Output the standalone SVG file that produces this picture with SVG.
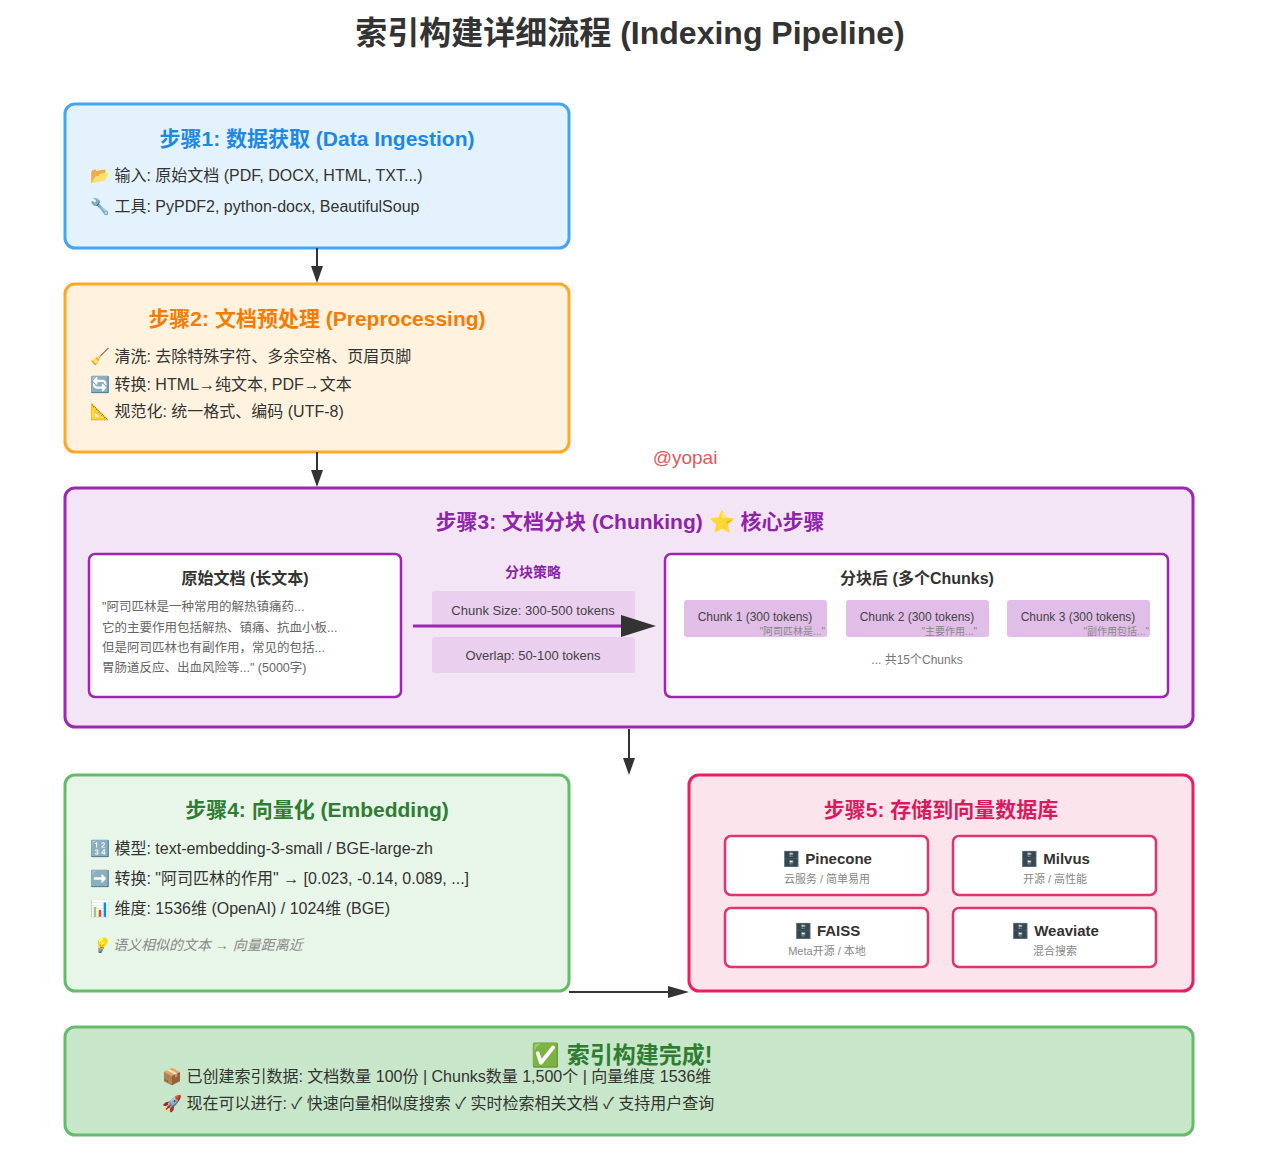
<svg xmlns="http://www.w3.org/2000/svg" width="1280" height="1155" viewBox="0 0 1280 1155">
<style>
text{font-family:"Liberation Sans","Noto Sans CJK SC",sans-serif}
.st{font-size:21px;font-weight:bold;text-anchor:middle}
.ln{font-size:16px;fill:#333}
.h{font-size:16px;font-weight:bold;fill:#333;text-anchor:middle}
.sm{font-size:12.5px;fill:#666}
.ck{fill:#e1bee7}
.ct{font-size:12px;fill:#444;text-anchor:middle}
.cs{font-size:10px;fill:#888;text-anchor:end}
.db{fill:#fff;stroke:#e0336f;stroke-width:2.5}
.dn{font-size:15px;font-weight:bold;fill:#333;text-anchor:middle}
.ds{font-size:11px;fill:#888;text-anchor:middle}
.ar{stroke:#333;stroke-width:2;fill:none}
.hd{fill:#333}
</style>
<rect width="1280" height="1155" fill="#fff"/>
<text x="630" y="44" font-size="32" font-weight="bold" fill="#333" text-anchor="middle">索引构建详细流程 (Indexing Pipeline)</text>
<text x="685" y="464" font-size="19" fill="#e05a5a" text-anchor="middle">@yopai</text>
<g id="step1">
<rect x="65" y="104" width="504" height="144" rx="10" fill="#e3f2fd" stroke="#42a5f5" stroke-width="3"/>
<text x="317" y="146" class="st" fill="#1e88e5">步骤1: 数据获取 (Data Ingestion)</text>
<text x="90" y="181" class="ln">📂 输入: 原始文档 (PDF, DOCX, HTML, TXT...)</text>
<text x="90" y="212" class="ln">🔧 工具: PyPDF2, python-docx, BeautifulSoup</text>
</g>
<g id="step2">
<rect x="65" y="284" width="504" height="168" rx="10" fill="#fff3e0" stroke="#ffa726" stroke-width="3"/>
<text x="317" y="326" class="st" fill="#f57c00">步骤2: 文档预处理 (Preprocessing)</text>
<text x="90" y="362" class="ln" font-size="15">🧹 清洗: 去除特殊字符、多余空格、页眉页脚</text>
<text x="90" y="390" class="ln" font-size="15">🔄 转换: HTML→纯文本, PDF→文本</text>
<text x="90" y="417" class="ln" font-size="15">📐 规范化: 统一格式、编码 (UTF-8)</text>
</g>
<g id="step3">
<rect x="65" y="488" width="1128" height="239" rx="10" fill="#f3e5f5" stroke="#9c27b0" stroke-width="3"/>
<text x="630" y="529" class="st" fill="#8e24aa">步骤3: 文档分块 (Chunking) ⭐ 核心步骤</text>
<rect x="89" y="554" width="312" height="143" rx="6" fill="#fff" stroke="#9c27b0" stroke-width="2.5"/>
<text x="245" y="584" class="h">原始文档 (长文本)</text>
<text x="102" y="611" class="sm">"阿司匹林是一种常用的解热镇痛药...</text>
<text x="102" y="632" class="sm">它的主要作用包括解热、镇痛、抗血小板...</text>
<text x="102" y="652" class="sm">但是阿司匹林也有副作用，常见的包括...</text>
<text x="102" y="672" class="sm">胃肠道反应、出血风险等..." (5000字)</text>
<text x="533" y="577" font-size="14" font-weight="bold" fill="#8e24aa" text-anchor="middle">分块策略</text>
<rect x="432" y="591" width="203" height="37" rx="3" fill="#e1bee7" opacity="0.55"/>
<rect x="432" y="637" width="203" height="36" rx="3" fill="#e1bee7" opacity="0.55"/>
<text x="533" y="615" font-size="13" fill="#444" text-anchor="middle">Chunk Size: 300-500 tokens</text>
<text x="533" y="660" font-size="13" fill="#444" text-anchor="middle">Overlap: 50-100 tokens</text>
<rect x="665" y="554" width="503" height="143" rx="6" fill="#fff" stroke="#9c27b0" stroke-width="2.5"/>
<text x="917" y="584" class="h">分块后 (多个Chunks)</text>
<rect x="684" y="600" width="143" height="37" rx="3" class="ck"/>
<rect x="846" y="600" width="143" height="37" rx="3" class="ck"/>
<rect x="1007" y="600" width="143" height="37" rx="3" class="ck"/>
<text x="755" y="621" class="ct">Chunk 1 (300 tokens)</text>
<text x="917" y="621" class="ct">Chunk 2 (300 tokens)</text>
<text x="1078" y="621" class="ct">Chunk 3 (300 tokens)</text>
<text x="825" y="635" class="cs">"阿司匹林是..."</text>
<text x="977" y="635" class="cs">"主要作用..."</text>
<text x="1149" y="635" class="cs">"副作用包括..."</text>
<text x="917" y="664" font-size="12" fill="#777" text-anchor="middle">... 共15个Chunks</text>
</g>
<g id="step4">
<rect x="65" y="775" width="504" height="216" rx="10" fill="#e8f5e9" stroke="#66bb6a" stroke-width="3"/>
<text x="317" y="817" class="st" fill="#2e7d32">步骤4: 向量化 (Embedding)</text>
<text x="90" y="854" class="ln" font-size="15">🔢 模型: text-embedding-3-small / BGE-large-zh</text>
<text x="90" y="884" class="ln" font-size="15">➡️ 转换: "阿司匹林的作用" → [0.023, -0.14, 0.089, ...]</text>
<text x="90" y="914" class="ln" font-size="15">📊 维度: 1536维 (OpenAI) / 1024维 (BGE)</text>
<text x="92" y="950" font-size="14" font-style="italic" fill="#888">💡 语义相似的文本 → 向量距离近</text>
</g>
<g id="step5">
<rect x="689" y="775" width="504" height="216" rx="10" fill="#fce4ec" stroke="#e91e63" stroke-width="3"/>
<text x="941" y="817" class="st" fill="#d81b60">步骤5: 存储到向量数据库</text>
<rect x="725" y="836" width="203" height="59" rx="6" class="db"/>
<rect x="953" y="836" width="203" height="59" rx="6" class="db"/>
<rect x="725" y="908" width="203" height="59" rx="6" class="db"/>
<rect x="953" y="908" width="203" height="59" rx="6" class="db"/>
<text x="827" y="864" class="dn">🗄️ Pinecone</text><text x="827" y="883" class="ds">云服务 / 简单易用</text>
<text x="1055" y="864" class="dn">🗄️ Milvus</text><text x="1055" y="883" class="ds">开源 / 高性能</text>
<text x="827" y="936" class="dn">🗄️ FAISS</text><text x="827" y="955" class="ds">Meta开源 / 本地</text>
<text x="1055" y="936" class="dn">🗄️ Weaviate</text><text x="1055" y="955" class="ds">混合搜索</text>
</g>
<g id="done">
<rect x="65" y="1027" width="1128" height="108" rx="10" fill="#c8e6c9" stroke="#66bb6a" stroke-width="3"/>
<text x="622" y="1063" font-size="23" font-weight="bold" fill="#2e7d32" text-anchor="middle">✅ 索引构建完成!</text>
<text x="162" y="1082" class="ln" font-size="15" fill="#444">📦 已创建索引数据: 文档数量 100份 | Chunks数量 1,500个 | 向量维度 1536维</text>
<text x="162" y="1109" class="ln" font-size="15" fill="#444">🚀 现在可以进行: ✓ 快速向量相似度搜索 ✓ 实时检索相关文档 ✓ 支持用户查询</text>
</g>
<g id="connectors">
<path class="ar" d="M317,248 V270"/><path class="hd" d="M311,266 L317,283 L323,266z"/>
<path class="ar" d="M317,452 V474"/><path class="hd" d="M311,470 L317,487 L323,470z"/>
<path class="ar" d="M629,729 V762"/><path class="hd" d="M623,758 L629,775 L635,758z"/>
<path class="ar" d="M569,992 H672"/><path class="hd" d="M668,986 L689,992 L668,998z"/>
<path d="M413,626 H625" stroke="#9c27b0" stroke-width="3" fill="none"/>
<path class="hd" d="M621,615 L656,626 L621,637z"/>
</g>
</svg>
